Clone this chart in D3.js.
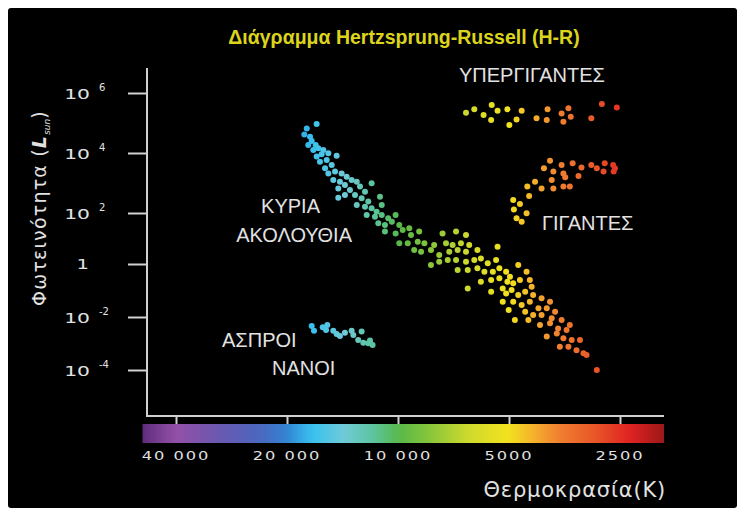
<!DOCTYPE html>
<html>
<head>
<meta charset="utf-8">
<script src="https://cdn.jsdelivr.net/npm/d3@7"></script>
<style>
  body { margin: 0; background: #fff; }
</style>
</head>
<body>
<script>
// ---- data ----
const yTickExps = [6, 4, 2, 0, -2, -4];
const xTickTemps = [40000, 20000, 10000, 5000, 2500];
const xTickLabels = ["40 000", "20 000", "10 000", "5000", "2500"];

// colour bar stops (temperature K -> colour)
const colorTemps = [50000, 40000, 30600, 23400, 20000, 17100, 14000, 11700, 9900, 7940, 6380, 5000, 4280, 3660, 2940, 2350, 1900];
const colorHexes = ["#5a2a78", "#9450a8", "#6a58b0", "#4a68c0", "#3284d2", "#38c2f0", "#70cad8", "#5cc4a0", "#58b848", "#90c838", "#d2da2c", "#f2e21e", "#f5b02c", "#f08030", "#e85828", "#e02222", "#9c1818"];

// main sequence: temperature (K), log10 luminosity (L_sun)
const msTemp = [16620, 17680, 17950, 17320, 17140, 16720, 17510, 16450, 16970, 15940,
  16620, 16110, 15450, 14670, 16280, 15610, 15130, 15770, 15450, 14820,
  14220, 13780, 14980, 14370, 13930, 13360, 12940, 14520, 13500, 12680,
  12290, 11790, 14520, 13930, 13080, 12550, 12040, 11190, 12940, 12290,
  11790, 11430, 11070, 12160, 11550, 11070, 10630, 10150, 11310, 10850,
  10390, 9920, 9710, 10850, 10150, 9320, 9220, 8760,
  7570, 6960, 6540, 9920, 9410, 8840, 8480, 7980, 7410, 7110, 6750, 6410,
  9040, 8660, 8140, 7730, 7260, 6890, 6540, 6090, 5370, 8140,
  7730, 7330, 6960, 6540, 6210, 5960, 5710, 5420, 6890, 6470,
  6090, 5830, 5530, 5310, 5090, 5960, 5590, 5310, 5050, 6470,
  5590, 5200,
  4720, 4480, 4970, 4870, 4670, 4390, 4340, 5090, 4920, 4720,
  4520, 4300, 4080, 3870, 5200, 4870, 4620, 4390, 4160, 3950,
  3750, 5010, 4520, 4300, 4080, 3830, 3600, 3420, 4820, 4430,
  4120, 3870, 3680, 3490, 3950, 3710, 3560, 3380, 3210, 3640,
  3450, 3280, 3140, 3080, 2890];
const msLogL = [4.97, 4.82, 4.62, 4.54, 4.40, 4.27, 4.27, 4.16, 4.10, 4.10,
  3.88, 3.96, 3.99, 3.91, 3.71, 3.77, 3.60, 3.49, 3.32, 3.38,
  3.32, 3.21, 3.10, 3.04, 2.93, 3.10, 3.04, 2.82, 2.77, 2.88,
  2.71, 2.99, 2.51, 2.60, 2.60, 2.49, 2.38, 2.54, 2.27, 2.21,
  2.16, 2.04, 2.27, 1.92, 1.85, 1.92, 1.79, 1.92, 1.60, 1.53,
  1.66, 1.53, 1.33, 1.27, 1.20, 1.40, 1.14, 1.27,
  1.20, 1.27, 1.14, 0.81, 0.81, 0.87, 0.81, 0.75, 0.81, 0.75, 0.81, 0.75,
  0.55, 0.48, 0.55, 0.35, 0.48, 0.55, 0.48, 0.55, 0.68, -0.04,
  0.09, 0.16, 0.16, 0.09, 0.16, 0.22, 0.03, 0.16, -0.23, -0.23,
  -0.16, -0.29, -0.29, -0.16, -0.29, -0.67, -0.60, -0.54, -0.67, -0.92,
  -1.05, -0.92,
  -0.04, -0.29, -0.48, -0.73, -0.60, -0.60, -0.86, -1.11, -0.98, -1.17,
  -1.05, -1.17, -1.29, -1.42, -1.42, -1.42, -1.55, -1.42, -1.67, -1.67,
  -1.80, -1.74, -1.80, -1.92, -1.92, -2.05, -2.11, -2.30, -2.11, -2.11,
  -2.30, -2.24, -2.43, -2.49, -2.74, -2.62, -2.80, -2.87, -2.87, -3.12,
  -3.12, -3.25, -3.37, -3.43, -4.00];

const giantTemp = [3870, 4020, 3790, 3600, 3560, 3360, 3240, 3180, 2990, 2890, 2750, 2770, 2610, 2600, 2580,
  4250, 4080, 3830, 3790, 3560, 3520, 3420, 4460, 4410, 4870, 4670, 4850, 4480, 4770, 4620];
const giantLogL = [3.74, 3.49, 3.38, 3.60, 3.32, 3.66, 3.23, 3.52, 3.60, 3.49, 3.66, 3.38, 3.60, 3.38, 3.49,
  3.04, 2.82, 3.10, 2.82, 2.88, 3.19, 2.88, 2.88, 2.57, 2.43, 2.30, 2.12, 1.99, 1.79, 1.66];

const superTemp = [6540, 6210, 5860, 5570, 5590, 5370, 5050, 4990, 4770, 4620, 4210, 3930, 3950, 3600, 3560, 3450, 3400, 2990, 2800, 2550];
const superLogL = [5.34, 5.46, 5.27, 5.60, 5.10, 5.41, 5.46, 4.93, 5.12, 5.41, 5.16, 5.46, 5.10, 5.32, 5.04, 5.49, 5.21, 5.16, 5.63, 5.52];

const dwarfTemp = [17140, 16900, 16000, 15550, 15670, 14980, 14670, 14370, 13930, 13360, 13220, 12550, 12820, 12420, 12040, 11720, 11910];
const dwarfLogL = [-2.34, -2.52, -2.39, -2.30, -2.49, -2.52, -2.64, -2.72, -2.59, -2.52, -2.68, -2.55, -2.87, -2.97, -2.99, -3.06, -2.89];

// ---- drawing ----
const width = 744, height = 517;
const textColor = '#e2e2e2';
const axisColor = '#d0d0d0';

const svg = d3.select('body')
  .append('svg')
  .attr('width', width)
  .attr('height', height);

svg.append('rect')
  .attr('x', 8).attr('y', 8)
  .attr('width', 729).attr('height', 500)
  .attr('rx', 3)
  .attr('fill', '#000');

const x = d3.scaleLog().domain([40000, 2500]).range([176, 620]);
// tick spacing in the picture is a bit uneven, so piecewise
const y = d3.scaleLinear().domain(yTickExps).range([93, 153, 213, 264, 317, 370]);
const color = d3.scaleLog().domain(colorTemps).range(colorHexes).interpolate(d3.interpolateRgb);

// title
svg.append('text')
  .attr('x', 404).attr('y', 44)
  .attr('text-anchor', 'middle')
  .attr('font-family', 'Liberation Sans, Arial, sans-serif')
  .attr('font-weight', 'bold')
  .attr('font-size', 19.5)
  .attr('fill', '#dcd41c')
  .text('Διάγραμμα Hertzsprung-Russell (H-R)');

// y axis
const yAxis = d3.axisLeft(y).tickValues(yTickExps).tickSize(19).tickFormat('');
const gy = svg.append('g').attr('transform', 'translate(147,0)').call(yAxis);
gy.select('.domain').remove();
gy.selectAll('line').attr('stroke', axisColor).attr('stroke-width', 2);
svg.append('line')
  .attr('x1', 147).attr('x2', 147).attr('y1', 68).attr('y2', 417)
  .attr('stroke', axisColor).attr('stroke-width', 2);

const yLab = svg.append('g')
  .attr('font-family', 'DejaVu Sans, sans-serif')
  .attr('fill', textColor);
yTickExps.forEach(e => {
  if (e === 0) {
    yLab.append('text')
      .attr('transform', `translate(89,${y(e) + 5}) scale(1.4,1)`)
      .attr('text-anchor', 'end')
      .attr('font-size', 14)
      .text('1');
  } else {
    yLab.append('text')
      .attr('transform', `translate(90,${y(e) + 6}) scale(1.45,1)`)
      .attr('text-anchor', 'end')
      .attr('font-size', 14)
      .text('10');
    yLab.append('text')
      .attr('x', 99).attr('y', y(e) - 2)
      .attr('font-size', 10)
      .text(e < 0 ? '-' + (-e) : e);
  }
});

// y title
const yt = svg.append('text')
  .attr('transform', 'translate(46,208) rotate(-90)')
  .attr('text-anchor', 'middle')
  .attr('font-family', 'DejaVu Sans, sans-serif')
  .attr('font-size', 19)
  .attr('letter-spacing', 1.2)
  .attr('fill', textColor);
yt.append('tspan').text('Φωτεινότητα (');
yt.append('tspan').attr('font-style', 'italic').attr('font-weight', 'bold').text('L');
yt.append('tspan').attr('font-style', 'italic').attr('font-size', 9).attr('dy', 4).attr('letter-spacing', 0).text('sun');
yt.append('tspan').attr('dy', -4).text(')');

// x axis
const xAxis = d3.axisBottom(x).tickValues(xTickTemps).tickSize(8).tickFormat('');
const gx = svg.append('g').attr('transform', 'translate(0,416)').call(xAxis);
gx.select('.domain').remove();
gx.selectAll('line').attr('stroke', axisColor).attr('stroke-width', 2);
svg.append('line')
  .attr('x1', 146).attr('x2', 664).attr('y1', 416).attr('y2', 416)
  .attr('stroke', axisColor).attr('stroke-width', 2);

// colour bar
const barX0 = 142.5, barX1 = 664;
const grad = svg.append('defs').append('linearGradient')
  .attr('id', 'tempGrad')
  .attr('gradientUnits', 'userSpaceOnUse')
  .attr('x1', barX0).attr('x2', barX1).attr('y1', 0).attr('y2', 0);
d3.range(61).forEach(i => {
  const px = barX0 + (barX1 - barX0) * i / 60;
  grad.append('stop')
    .attr('offset', i / 60)
    .attr('stop-color', color(x.invert(px)));
});
svg.append('rect')
  .attr('x', barX0).attr('y', 424)
  .attr('width', barX1 - barX0).attr('height', 19)
  .attr('fill', 'url(#tempGrad)');

// x tick labels
xTickTemps.forEach((t, i) => {
  svg.append('text')
    .attr('transform', `translate(${x(t)},460) scale(1.3,1)`)
    .attr('text-anchor', 'middle')
    .attr('font-family', 'DejaVu Sans, sans-serif')
    .attr('font-size', 12.5)
    .attr('letter-spacing', 1.5)
    .attr('fill', textColor)
    .text(xTickLabels[i]);
});

// x title
svg.append('text')
  .attr('x', 666).attr('y', 497)
  .attr('text-anchor', 'end')
  .attr('font-family', 'DejaVu Sans, sans-serif')
  .attr('font-size', 21)
  .attr('letter-spacing', 0.8)
  .attr('fill', textColor)
  .text('Θερμοκρασία(K)');

// stars
const groups = [
  d3.zip(msTemp, msLogL),
  d3.zip(giantTemp, giantLogL),
  d3.zip(superTemp, superLogL),
  d3.zip(dwarfTemp, dwarfLogL)
];
const dots = svg.append('g');
groups.forEach(g => {
  dots.selectAll(null)
    .data(g)
    .enter()
    .append('circle')
    .attr('cx', d => x(d[0]))
    .attr('cy', d => y(d[1]))
    .attr('r', 3)
    .attr('fill', d => color(d[0]));
});

// region labels
const labels = [
  { text: 'ΥΠΕΡΓΙΓΑΝΤΕΣ', x: 459, y: 82, anchor: 'start' },
  { text: 'ΓΙΓΑΝΤΕΣ', x: 542, y: 230, anchor: 'start' },
  { text: 'ΚΥΡΙΑ', x: 320, y: 213, anchor: 'end' },
  { text: 'ΑΚΟΛΟΥΘΙΑ', x: 352, y: 242, anchor: 'end' },
  { text: 'ΑΣΠΡΟΙ', x: 222, y: 347, anchor: 'start' },
  { text: 'ΝΑΝΟΙ', x: 272, y: 375, anchor: 'start' }
];
svg.append('g')
  .selectAll('text')
  .data(labels)
  .enter()
  .append('text')
  .attr('x', d => d.x)
  .attr('y', d => d.y)
  .attr('text-anchor', d => d.anchor)
  .attr('font-family', 'Liberation Sans, Arial, sans-serif')
  .attr('font-size', 20)
  .attr('fill', textColor)
  .text(d => d.text);
</script>
</body>
</html>
